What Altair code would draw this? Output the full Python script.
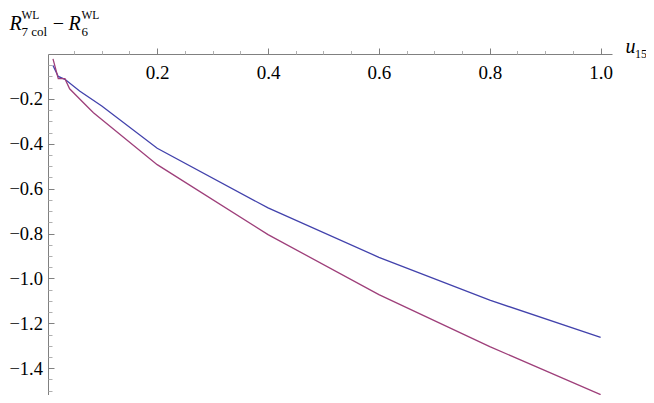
import altair as alt
import pandas as pd

# data
blue_u = [0.012, 0.0215, 0.0335, 0.06, 0.1, 0.2, 0.4, 0.6, 0.8, 1.0]
blue_r = [-0.051, -0.100, -0.113, -0.165, -0.232, -0.420, -0.686, -0.906, -1.097, -1.263]
purple_u = [0.012, 0.0215, 0.0335, 0.042, 0.062, 0.085, 0.2, 0.4, 0.6, 0.8, 1.0]
purple_r = [-0.022, -0.110, -0.110, -0.155, -0.205, -0.262, -0.493, -0.805, -1.072, -1.304, -1.518]

x_major = [0.2, 0.4, 0.6, 0.8, 1.0]
x_minor = [0.05, 0.1, 0.15, 0.25, 0.3, 0.35, 0.45, 0.5, 0.55, 0.65, 0.7, 0.75,
           0.85, 0.9, 0.95]
y_major = [-0.2, -0.4, -0.6, -0.8, -1.0, -1.2, -1.4]
y_minor = [-0.05, -0.1, -0.15, -0.25, -0.3, -0.35, -0.45, -0.5, -0.55, -0.65, -0.7,
           -0.75, -0.85, -0.9, -0.95, -1.05, -1.1, -1.15, -1.25, -1.3, -1.35, -1.45,
           -1.5]

W, H = 564, 341
FONT = "Liberation Serif"
AX = "#808080"
AXMIN = "#b0b0b0"
MINUS_EXPR = "replace(datum.label, '-', '\u2212')"

xs = alt.Scale(domain=[0.003, 1.0205], nice=False, zero=False)
ys = alt.Scale(domain=[-1.5196, 0.0], nice=False, zero=False)

df_blue = pd.DataFrame({"u": blue_u, "r": blue_r})
df_purple = pd.DataFrame({"u": purple_u, "r": purple_r})
one = pd.DataFrame({"k": [0]})

blue = alt.Chart(df_blue).mark_line(color="#4242ac", strokeWidth=1.3).encode(
    x=alt.X("u:Q", scale=xs, axis=alt.Axis(
        orient="top", values=x_major, format=".1f", title=None, grid=False,
        tickSize=6, tickColor=AX, domainColor=AX, tickWidth=1, domainWidth=1,
        labelPadding=-15, labelBaseline="top", labelAlign="center",
        labelFont=FONT, labelFontSize=19, labelColor="black",
        labelFlush=False, labelOverlap=False, labelBound=False)),
    y=alt.Y("r:Q", scale=ys, axis=alt.Axis(
        orient="right", offset=-W, values=y_major, format=".1f", title=None, grid=False,
        tickSize=6, tickColor=AX, domainColor=AX, tickWidth=1, domainWidth=1,
        labelPadding=-11.5, labelAlign="right", labelBaseline="middle",
        labelExpr=MINUS_EXPR,
        labelFont=FONT, labelFontSize=18.5, labelColor="black",
        labelFlush=False, labelOverlap=False, labelBound=False)),
)

purple = alt.Chart(df_purple).mark_line(color="#9e3f7a", strokeWidth=1.3).encode(
    x=alt.X("u:Q", scale=xs, axis=alt.Axis(
        orient="top", values=x_minor, labels=False, domain=False, title=None,
        grid=False, tickSize=3.5, tickColor=AXMIN, tickWidth=1)),
    y=alt.Y("r:Q", scale=ys, axis=alt.Axis(
        orient="right", offset=-W, values=y_minor, labels=False, domain=False,
        title=None, grid=False, tickSize=4, tickColor=AXMIN, tickWidth=1)),
)


def txt(s, x, y, size, italic=False, align="left"):
    return alt.Chart(one).mark_text(
        text=s, align=align, baseline="alphabetic", font=FONT, fontSize=size,
        fontStyle="italic" if italic else "normal", color="black",
    ).encode(x=alt.value(x), y=alt.value(y))


texts = [
    txt("R", -38.5, -24, 20, italic=True),
    txt("WL", -26.5, -35, 11.5),
    txt("7 col", -26.5, -18, 13),
    txt("\u2212", 10.5, -24, 20, align="center"),
    txt("R", 20.5, -24, 20, italic=True),
    txt("WL", 33.5, -35, 11.5),
    txt("6", 33.5, -18, 13),
    txt("u", 577.5, -1, 20, italic=True),
    txt("15", 587, 4, 12),
]

chart = alt.layer(blue, purple, *texts).resolve_axis(
    x="independent", y="independent"
).properties(
    width=W, height=H,
    padding={"left": 40, "top": 46, "right": 34, "bottom": 0},
    autosize=alt.AutoSizeParams(type="none"),
    background="white",
).configure_view(stroke=None)

chart.save("out.html", embed_options={"renderer": "svg", "actions": False})
